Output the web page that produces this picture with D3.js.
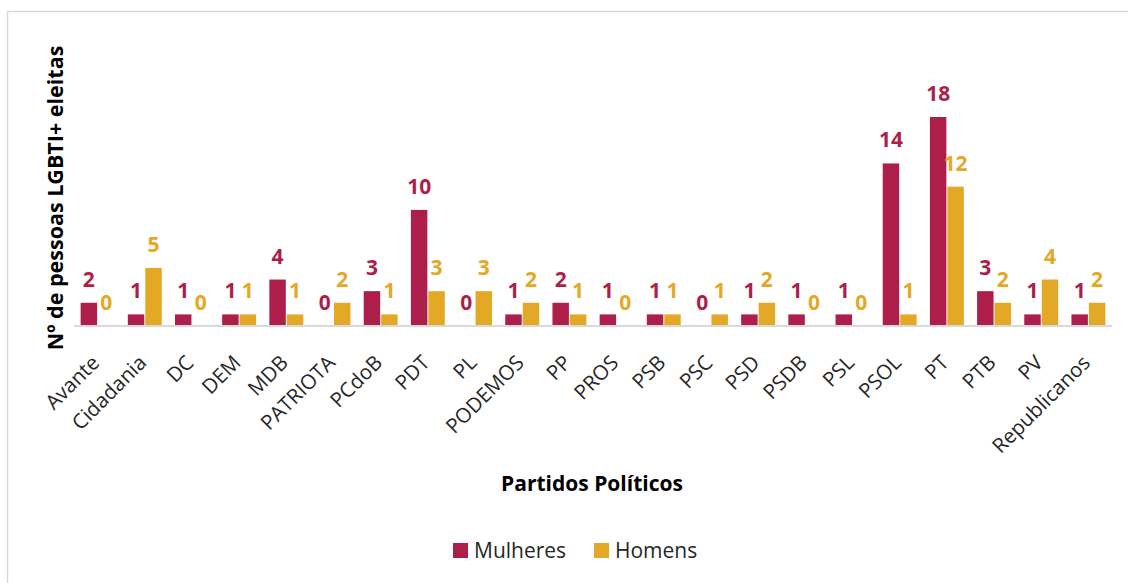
<!DOCTYPE html>
<html>
<head>
<meta charset="utf-8">
<script src="https://cdn.jsdelivr.net/npm/d3@7"></script>
<style>
	body { margin: 0; background: #fff; }
	svg { display: block; font-family: "Open Sans", "Noto Sans", sans-serif; }
</style>
</head>
<body>
<div id="chart"></div>
<script>

///////////////////////////////////////////////////////////////////////

let partidos = [ "Avante", "Cidadania", "DC", "DEM", "MDB", "PATRIOTA", "PCdoB", "PDT", "PL",
	"PODEMOS", "PP", "PROS", "PSB", "PSC", "PSD", "PSDB", "PSL", "PSOL", "PT", "PTB", "PV", "Republicanos" ];

let mulheres = [ 2, 1, 1, 1, 4, 0, 3, 10, 0, 1, 2, 1, 1, 0, 1, 1, 1, 14, 18, 3, 1, 1 ];
let homens   = [ 0, 5, 0, 1, 1, 2, 1, 3, 3, 2, 1, 0, 1, 1, 2, 0, 0, 1, 12, 2, 4, 2 ];

let series = [ "Mulheres", "Homens" ];
let cores = [ "#ad1f4a", "#e3a826" ];

///////////////////////////////////////////////////////////////////////

let width = 1128, height = 583;
let x0 = 74, x1 = 1112, y_base = 326, y_top = 117;

let svg = d3.select( "#chart" )
	.append( "svg" )
		.attr( "width", width )
		.attr( "height", height );

// frame
svg.append( "path" )
	.attr( "d", "M7.5," + height + "V11.5H" + width )
	.attr( "fill", "none" )
	.attr( "stroke", "#d9d9d9" )
	.attr( "stroke-width", 1.5 );

let x = d3.scaleBand()
	.domain( partidos )
	.range( [ x0, x1 ] )
	.paddingInner( 0.26 )
	.paddingOuter( 0.13 );

let xs = d3.scaleBand()
	.domain( series )
	.range( [ 0, x.bandwidth() ] );

let y = d3.scaleLinear()
	.domain( [ 0, 18 ] )
	.range( [ y_base, y_top ] );

let data = partidos.map( ( p, i ) => ( { partido: p, valores: [ mulheres[ i ], homens[ i ] ] } ) );

let grupos = svg.append( "g" )
	.selectAll( "g" )
	.data( data )
	.join( "g" )
		.attr( "transform", d => "translate(" + x( d.partido ) + ",0)" );

grupos.selectAll( "rect" )
	.data( d => d.valores.map( ( v, k ) => ( { serie: series[ k ], v, k } ) ) )
	.join( "rect" )
		.attr( "x", d => xs( d.serie ) + 0.5 )
		.attr( "y", d => y( d.v ) )
		.attr( "width", xs.bandwidth() - 1 )
		.attr( "height", d => y_base - y( d.v ) )
		.attr( "fill", d => cores[ d.k ] );

grupos.selectAll( "text" )
	.data( d => d.valores.map( ( v, k ) => ( { serie: series[ k ], v, k } ) ) )
	.join( "text" )
		.attr( "x", d => xs( d.serie ) + xs.bandwidth() / 2 )
		.attr( "y", d => y( d.v ) - 16 )
		.attr( "text-anchor", "middle" )
		.attr( "font-size", 21 )
		.attr( "font-weight", "bold" )
		.attr( "fill", d => cores[ d.k ] )
		.text( d => d.v );

// x axis
let eixo = svg.append( "g" )
	.attr( "transform", "translate(0," + y_base + ")" )
	.call( d3.axisBottom( x ).tickSize( 0 ).tickPadding( 0 ) );

eixo.select( ".domain" )
	.attr( "d", "M" + x0 + ",0H" + x1 )
	.attr( "stroke", "#d9d9d9" )
	.attr( "stroke-width", 2 );

eixo.selectAll( ".tick text" )
	.attr( "font-size", 20.5 )
	.attr( "font-family", "'Open Sans', sans-serif" )
	.attr( "fill", "#262626" )
	.attr( "text-anchor", "end" )
	.attr( "dy", null )
	.attr( "y", 0 )
	.attr( "transform", "translate(3,38) rotate(-45)" );

// axis titles
svg.append( "text" )
	.attr( "transform", "translate(63,198) rotate(-90)" )
	.attr( "text-anchor", "middle" )
	.attr( "font-size", 21.5 )
	.attr( "font-weight", "bold" )
	.attr( "fill", "#000" )
	.text( "Nº de pessoas LGBTI+ eleitas" );

svg.append( "text" )
	.attr( "x", 592 )
	.attr( "y", 491 )
	.attr( "text-anchor", "middle" )
	.attr( "font-size", 21 )
	.attr( "font-weight", "bold" )
	.attr( "fill", "#000" )
	.text( "Partidos Políticos" );

// legend
let lx = [ 453, 594 ];
let legenda = svg.append( "g" )
	.selectAll( "g" )
	.data( series )
	.join( "g" )
		.attr( "transform", ( d, i ) => "translate(" + lx[ i ] + ",543)" );

legenda.append( "rect" )
	.attr( "width", 15 )
	.attr( "height", 15 )
	.attr( "fill", ( d, i ) => cores[ i ] );

legenda.append( "text" )
	.attr( "x", 21 )
	.attr( "y", 15 )
	.attr( "font-size", 21 )
	.attr( "fill", "#262626" )
	.text( d => d );

</script>
</body>
</html>
